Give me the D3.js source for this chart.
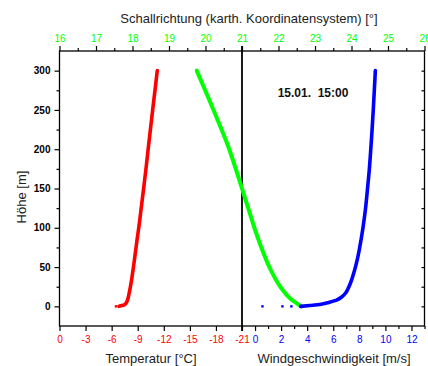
<!DOCTYPE html>
<html><head><meta charset="utf-8">
<script src="https://cdn.jsdelivr.net/npm/d3@7"></script>
<style>
body{margin:0;background:#fff;}
svg{display:block;font-family:"Liberation Sans",Arial,sans-serif;}
</style></head>
<body><svg id="c" width="428" height="366"></svg>
<script>
// ---- data ----
const tempHeights = [0,1,2,4,8,15,25,40,60,85,100,125,150,175,200,225,250,275,300];
const tempValues  = [-6.85,-7.2,-7.45,-7.65,-7.82,-7.98,-8.16,-8.38,-8.63,-8.93,-9.12,-9.4,-9.68,-9.95,-10.2,-10.46,-10.72,-10.99,-11.25];
const tempDots    = [-6.5];           // isolated points at 0 m

const dirHeights = [0,10,25,50,75,100,125,150,175,200,225,250,275,300];
const dirValues  = [22.62,22.32,22.05,21.75,21.53,21.34,21.17,21.0,20.83,20.65,20.44,20.22,19.99,19.76];

const windHeights = [0,1,2,3,5,8,12,17,22,30,45,60,75,100,125,150,175,200,225,250,275,300];
const windValues  = [3.5,4.2,4.8,5.15,5.65,6.25,6.65,6.95,7.12,7.33,7.62,7.85,8.03,8.28,8.48,8.63,8.77,8.88,8.98,9.07,9.15,9.23];
const windDots    = [0.57,2.1,2.79];  // isolated points at 0 m

const heightTicks = [0,50,100,150,200,250,300];
const heightMinor = [25,75,125,175,225,275];
const heightRight = [0,25,50,75,100,125,150,175,200,225,250,275,300];
const dirTicks  = [16,17,18,19,20,21,22,23,24,25,26];
const dirMinor  = [16.5,17.5,18.5,19.5,20.5,21.5,22.5,23.5,24.5,25.5];
const tempTicks = [0,-3,-6,-9,-12,-15,-18,-21];
const windTicks = [0,2,4,6,8,10,12];
const windMinor = [1,3,5,7,9,11,13];

const titleTop = "Schallrichtung (karth. Koordinatensystem) [°]";
const titleTemp = "Temperatur [°C]";
const titleWind = "Windgeschwindigkeit [m/s]";
const titleY = "Höhe [m]";
const stamp = "15.01.\u00a0\u00a015:00";

// ---- layout ----
const L=59.5, R=424.5, T=51, B=326, MID=242;
const svg = d3.select("#c");
const y = d3.scaleLinear().domain([-25,325]).range([B,T]);
const xDir = d3.scaleLinear().domain([16,26]).range([L,R]);
const xTemp = d3.scaleLinear().domain([0,-21]).range([L,MID]);
const xWind = d3.scaleLinear().domain([-1,13]).range([MID,R]);

function style(g, color, bold){
  g.select(".domain").remove();
  g.selectAll("line").attr("stroke","#000").attr("stroke-width",1.2);
  g.selectAll("text").attr("fill",color).attr("font-size","10px")
    .attr("font-family","'Liberation Sans',Arial,sans-serif")
    .attr("font-weight", bold?"bold":"normal");
}

// left axis
const gl = svg.append("g").attr("transform",`translate(${L},0)`)
  .call(d3.axisLeft(y).tickValues(heightTicks).tickSize(5).tickPadding(4));
style(gl,"#000",true);
const glm = svg.append("g").attr("transform",`translate(${L},0)`)
  .call(d3.axisLeft(y).tickValues(heightMinor).tickSize(3).tickFormat(""));
style(glm,"#000");
// right axis (inward)
const gr = svg.append("g").attr("transform",`translate(${R},0)`)
  .call(d3.axisLeft(y).tickValues(heightRight).tickSize(3).tickFormat(""));
style(gr,"#000");

// top axis
const gt = svg.append("g").attr("transform",`translate(0,${T})`)
  .call(d3.axisTop(xDir).tickValues(dirTicks).tickSize(5).tickPadding(4).tickFormat(d=>String(d)));
style(gt,"#00ff00");
const gtm = svg.append("g").attr("transform",`translate(0,${T})`)
  .call(d3.axisTop(xDir).tickValues(dirMinor).tickSize(3).tickFormat(""));
style(gtm,"#000");

// bottom temperature axis
const gb = svg.append("g").attr("transform",`translate(0,${B})`)
  .call(d3.axisBottom(xTemp).tickValues(tempTicks).tickSize(5).tickPadding(5).tickFormat(d=>String(d)));
style(gb,"#ff0000");
// bottom wind axis
const gw = svg.append("g").attr("transform",`translate(0,${B})`)
  .call(d3.axisBottom(xWind).tickValues(windTicks).tickSize(5).tickPadding(5).tickFormat(d=>String(d)));
style(gw,"#0000ff");
const gwm = svg.append("g").attr("transform",`translate(0,${B})`)
  .call(d3.axisBottom(xWind).tickValues(windMinor).tickSize(3).tickFormat(""));
style(gwm,"#000");

// frame
svg.append("rect").attr("x",L).attr("y",T).attr("width",R-L).attr("height",B-T)
  .attr("fill","none").attr("stroke","#000").attr("stroke-width",1.3);
svg.append("line").attr("x1",MID).attr("x2",MID).attr("y1",T-5).attr("y2",B+5)
  .attr("stroke","#000").attr("stroke-width",1.8);

// curves
const lineT = d3.line().x(d=>xTemp(d[1])).y(d=>y(d[0])).curve(d3.curveMonotoneY);
const lineD = d3.line().x(d=>xDir(d[1])).y(d=>y(d[0])).curve(d3.curveMonotoneY);
const lineW = d3.line().x(d=>xWind(d[1])).y(d=>y(d[0])).curve(d3.curveMonotoneY);

svg.append("path").datum(d3.zip(tempHeights,tempValues)).attr("d",lineT)
  .attr("fill","none").attr("stroke","#ff0000").attr("stroke-width",3.6).attr("stroke-linecap","round");
svg.append("path").datum(d3.zip(dirHeights,dirValues)).attr("d",lineD)
  .attr("fill","none").attr("stroke","#00ff00").attr("stroke-width",4).attr("stroke-linecap","round");
svg.append("path").datum(d3.zip(windHeights,windValues)).attr("d",lineW)
  .attr("fill","none").attr("stroke","#0000ff").attr("stroke-width",3.6).attr("stroke-linecap","round");

svg.selectAll("rect.td").data(tempDots).join("rect").attr("class","td")
  .attr("x",d=>xTemp(d)-1.2).attr("y",y(0)-1.2).attr("width",2.4).attr("height",2.4).attr("fill","#ff0000");
svg.selectAll("rect.wd").data(windDots).join("rect").attr("class","wd")
  .attr("x",d=>xWind(d)-1.2).attr("y",y(0)-1.2).attr("width",2.4).attr("height",2.4).attr("fill","#0000ff");

// texts
svg.append("text").attr("x",249).attr("y",23).attr("text-anchor","middle")
  .attr("font-size","13px").attr("fill","#222").text(titleTop);
svg.append("text").attr("x",151).attr("y",363).attr("text-anchor","middle")
  .attr("font-size","13px").attr("fill","#222").text(titleTemp);
svg.append("text").attr("x",334).attr("y",363).attr("text-anchor","middle")
  .attr("font-size","13px").attr("fill","#222").text(titleWind);
svg.append("text").attr("transform","translate(25.5,197) rotate(-90)").attr("text-anchor","middle")
  .attr("font-size","13px").attr("fill","#222").text(titleY);
svg.append("text").attr("x",313).attr("y",97).attr("text-anchor","middle")
  .attr("font-size","12px").attr("font-weight","bold").attr("fill","#111").text(stamp);
</script></body></html>
